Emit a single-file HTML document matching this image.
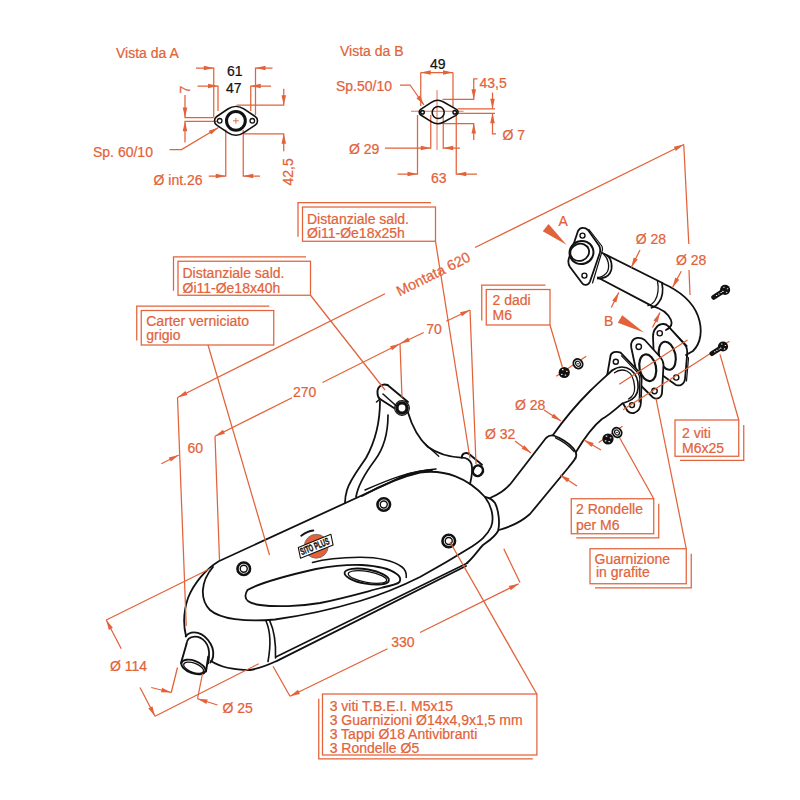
<!DOCTYPE html>
<html><head><meta charset="utf-8"><style>
html,body{margin:0;padding:0;background:#fff;width:800px;height:800px;overflow:hidden}
svg{display:block}
text{font-family:"Liberation Sans",sans-serif}
</style></head><body>
<svg width="800" height="800" viewBox="0 0 800 800">
<rect width="800" height="800" fill="#fff"/>
<path d="M380,401 C380,420 376,440 366,458 C358,470 350,480 347,490 C345.5,495 345,500 345,503" fill="none" stroke="#111" stroke-width="1.8" stroke-linejoin="round" stroke-linecap="round" />
<path d="M376.5,402 L380,399" fill="none" stroke="#111" stroke-width="1.6" stroke-linejoin="round" stroke-linecap="round" />
<path d="M388,415 C388,432 384,448 375,460 C366,472 358,484 356,497" fill="none" stroke="#111" stroke-width="1.7" stroke-linejoin="round" stroke-linecap="round" />
<path d="M408,412.5 C412,426 418,438 428,447 C438,454 450,457 461,457.6" fill="none" stroke="#111" stroke-width="1.8" stroke-linejoin="round" stroke-linecap="round" />
<path d="M426.25,445 L438.75,456.25" fill="none" stroke="#111" stroke-width="1.4" stroke-linejoin="round" stroke-linecap="round" />
<path d="M387.5,385 L408,402" fill="none" stroke="#111" stroke-width="1.9" stroke-linejoin="round" stroke-linecap="round" />
<path d="M387.5,385 C382,383 377,387 377.5,393 C377.5,396 378.5,398 380,399 L394,408" fill="none" stroke="#111" stroke-width="1.9" stroke-linejoin="round" stroke-linecap="round" />
<path d="M383,394 L397.5,407" fill="none" stroke="#111" stroke-width="1.5" stroke-linejoin="round" stroke-linecap="round" />
<circle cx="402" cy="408" r="5.1" fill="white" stroke="#111" stroke-width="3.4"/>
<circle cx="402" cy="408" r="7.4" fill="none" stroke="#111" stroke-width="1.1"/>
<path d="M461.75,457.6 C462,453 466,452.5 468.5,453.5 L482,464.75" fill="none" stroke="#111" stroke-width="1.9" stroke-linejoin="round" stroke-linecap="round" />
<path d="M461.75,457.6 C466,457.6 470,460 471.5,464 C472.5,468 472,476 470,484" fill="none" stroke="#111" stroke-width="1.8" stroke-linejoin="round" stroke-linecap="round" />
<ellipse cx="477.9" cy="470.75" rx="4.9" ry="5.4" transform="rotate(30 477.9 470.75)" fill="white" stroke="#111" stroke-width="2.6"/>
<path d="M432,470 C420,470.5 405,474 390,482.5 L218.75,561.25 C206,569 194,583 188,598 C184,610 183,624 186,636" fill="none" stroke="#111" stroke-width="1.8" stroke-linejoin="round" stroke-linecap="round" />
<path d="M362,496 C380,486 400,477 420,472.5 C445,469 468,478 485,497 C493,508 494,520 491,527 C487,536 480,541 472,546.5 C460,554 440,566 420,577 C400,587 380,595 360,601 C330,610 300,616 275,619.5 C245,622 220,619 210,610 C200,600 200,582 213,567" fill="none" stroke="#111" stroke-width="1.8" stroke-linejoin="round" stroke-linecap="round" />
<path d="M365,490 C390,479 410,471 436,469" fill="none" stroke="#111" stroke-width="1.5" stroke-linejoin="round" stroke-linecap="round" />
<path d="M485,497 C490,498 493,500 495,503 C499,511 500,524 498,531 C495,537 490,540 483,545 C478,550 474,557 467,563" fill="none" stroke="#111" stroke-width="1.8" stroke-linejoin="round" stroke-linecap="round" />
<path d="M250,670 C262,668 270,664 277.5,660.6 L466,566" fill="none" stroke="#111" stroke-width="1.8" stroke-linejoin="round" stroke-linecap="round" />
<path d="M275.75,657 L467.5,563" fill="none" stroke="#111" stroke-width="1.6" stroke-linejoin="round" stroke-linecap="round" />
<path d="M211,661 C220,667 232,670 250,670" fill="none" stroke="#111" stroke-width="1.8" stroke-linejoin="round" stroke-linecap="round" />
<path d="M266,621 C270,630 271,645 268,661.5" fill="none" stroke="#111" stroke-width="1.6" stroke-linejoin="round" stroke-linecap="round" />
<path d="M269.6,620.4 C274,630 276,645 275.5,658" fill="none" stroke="#111" stroke-width="1.6" stroke-linejoin="round" stroke-linecap="round" />
<circle cx="243.75" cy="568.75" r="6.3" fill="none" stroke="#111" stroke-width="2.6"/>
<circle cx="243.75" cy="568.75" r="3.5" fill="none" stroke="#111" stroke-width="1.4"/>
<circle cx="383.75" cy="504.5" r="6.3" fill="none" stroke="#111" stroke-width="2.6"/>
<circle cx="383.75" cy="504.5" r="3.5" fill="none" stroke="#111" stroke-width="1.4"/>
<circle cx="448.75" cy="541" r="6.3" fill="none" stroke="#111" stroke-width="2.6"/>
<circle cx="448.75" cy="541" r="3.5" fill="none" stroke="#111" stroke-width="1.4"/>
<path d="M247.5,590 C258,584 285,576 316,569 C335,565.5 350,564.5 362,565 C378,566 390,569 396,573.5 C400,576 401,579 399.5,582 C397,584.5 390,586 382.5,587.5 C365,592 345,598 320,603 C300,606.5 275,607 260,605 C250,603.5 245,600 245.5,595.5 C245.8,593 246.5,591.5 247.5,590 Z" fill="none" stroke="#111" stroke-width="1.8" stroke-linejoin="round" stroke-linecap="round" />
<path d="M312.5,562.5 C325,559 342,557.5 360,557.3 C378,557.3 392,560 402,567 C406,570 406.5,574 406.25,577.5" fill="none" stroke="#111" stroke-width="1.6" stroke-linejoin="round" stroke-linecap="round" />
<ellipse cx="366.75" cy="576.6" rx="22.5" ry="7.2" transform="rotate(10 366.75 576.6)" fill="none" stroke="#111" stroke-width="1.8"/>
<ellipse cx="367.5" cy="577" rx="19.5" ry="5.4" transform="rotate(10 367.5 577)" fill="none" stroke="#111" stroke-width="1.3"/>
<circle cx="316.25" cy="546.25" r="11.9" fill="#e2623a" stroke="#7a6a66" stroke-width="0.9"/>
<path d="M298.25,547.4 L330.9,534.25 L333.1,545.1 L300.5,558.25 Z" fill="white" stroke="#111" stroke-width="1.1" stroke-linejoin="round" stroke-linecap="round" />
<text x="0" y="0" font-size="10" font-weight="bold" fill="#111" stroke="#111" stroke-width="0.45" textLength="30.5" lengthAdjust="spacingAndGlyphs" transform="translate(301.8,555.3) rotate(-21.9)" style="font-family:'Liberation Sans',sans-serif">SITO PLUS</text>
<path d="M301.25,535.75 C305,533 309,531 313.25,530.5" fill="none" stroke="#111" stroke-width="2.0" stroke-linejoin="round" stroke-linecap="round" />
<path d="M185.75,636.5 C188,633 191,632.4 194,632.4 C199,632.5 204,635 208,640 C212,645 214,651 213.1,656.5 C212.7,659 211.8,661 210.5,662.5" fill="none" stroke="#111" stroke-width="1.9" stroke-linejoin="round" stroke-linecap="round" />
<path d="M186.5,643.75 C186.8,640 189.5,637 194.75,636.6 C198,636.5 202,638 205,641.5 C208,645 209.5,651 209,656.5 C208.9,659 208.6,661 208.25,663.25" fill="none" stroke="#111" stroke-width="1.8" stroke-linejoin="round" stroke-linecap="round" />
<path d="M186.5,644 L181,663" fill="none" stroke="#111" stroke-width="1.9" stroke-linejoin="round" stroke-linecap="round" />
<path d="M208.25,656.5 L206,671.5" fill="none" stroke="#111" stroke-width="1.9" stroke-linejoin="round" stroke-linecap="round" />
<ellipse cx="193.4" cy="667" rx="12.6" ry="6.3" transform="rotate(20 193.4 667)" fill="white" stroke="#111" stroke-width="1.9"/>
<ellipse cx="193.6" cy="667.8" rx="10.5" ry="4.6" transform="rotate(20 193.6 667.8)" fill="none" stroke="#111" stroke-width="1.3"/>
<path d="M656,328 C658,324 665,322.5 668,326 L685,345 C687.5,348 687.5,352 687,356 L685,379 C684.5,384 680,386.5 676,385 L662,375 C657,371 654,366 654,360 L653,337 C653,333 654,330 656,328 Z" fill="white" stroke="#111" stroke-width="1.8" stroke-linejoin="round" stroke-linecap="round" />
<path d="M668,326 L687,346 M687,356 L688.5,358 L686.5,381" fill="none" stroke="#111" stroke-width="1.2" stroke-linejoin="round" stroke-linecap="round" />
<ellipse cx="667.25" cy="355.75" rx="8.25" ry="14.25" transform="rotate(-12 667.25 355.75)" fill="none" stroke="#111" stroke-width="2.1"/>
<circle cx="659.75" cy="333.25" r="2.6" fill="none" stroke="#111" stroke-width="1.4"/>
<circle cx="676.25" cy="377.5" r="2.6" fill="none" stroke="#111" stroke-width="1.4"/>
<path d="M662,283 C678,290 692,300 698,316 C703,330 701,343 693,351 L686,355" fill="none" stroke="#111" stroke-width="1.8" stroke-linejoin="round" stroke-linecap="round" />
<path d="M651,305.6 C660,308 668,313 671,320 C673,325 670,328 666,330" fill="none" stroke="#111" stroke-width="1.8" stroke-linejoin="round" stroke-linecap="round" />
<path d="M632,341.5 C634,337.5 640,336.5 644.75,340 L659.75,356.5 C662,359 663.5,362 663.5,365 L662,393 C661.5,398 657,400 653,397.5 L643.25,388 C640,385 638,381 637.5,377 L631.25,347.5 C630.8,345 631,343 632,341.5 Z" fill="white" stroke="#111" stroke-width="1.8" stroke-linejoin="round" stroke-linecap="round" />
<ellipse cx="647.75" cy="367.75" rx="8.25" ry="13.5" transform="rotate(-12 647.75 367.75)" fill="none" stroke="#111" stroke-width="2.2"/>
<circle cx="638.75" cy="346.75" r="2.7" fill="none" stroke="#111" stroke-width="1.4"/>
<circle cx="654.5" cy="391" r="2.7" fill="none" stroke="#111" stroke-width="1.4"/>
<path d="M610.5,356 C611,352 616,351 620.6,352.6 L639,371.9 C641,374 641.6,376 641.6,379 L640.9,402.5 C640.8,407 639,411 634,413 C631,413.5 629,412.5 627.5,411 L607,376.25 L610.5,356 Z" fill="white" stroke="#111" stroke-width="1.8" stroke-linejoin="round" stroke-linecap="round" />
<path d="M621.5,355.8 L637.8,372.8 C639.3,374.8 639.8,377 639.8,379 L639.2,402" fill="none" stroke="#111" stroke-width="1.2" stroke-linejoin="round" stroke-linecap="round" />
<circle cx="615.8" cy="361.8" r="2.5" fill="none" stroke="#111" stroke-width="1.4"/>
<circle cx="632" cy="405.1" r="2.5" fill="none" stroke="#111" stroke-width="1.4"/>
<path d="M553,435 C565,418 578,403 590,391 C598,383 605,377 612,370.5 C618,366.3 625,365.8 631.1,370.1 C636,374 638.5,381 638.1,387.6 C637.8,394 634,399 627.6,401.6 L622.4,403.4 C616,409 608,416 602,419 C592,427 582,442 576,452 Z" fill="white" stroke="none"/>
<path d="M553,435 C565,418 578,403 590,391 C598,383 605,377 612,370.5" fill="none" stroke="#111" stroke-width="1.8" stroke-linejoin="round" stroke-linecap="round" />
<path d="M612,370.5 C618,366.3 625,365.8 631.1,370.1 C636,374 638.5,381 638.1,387.6 C637.8,394 634,399 627.6,401.6 L622.4,403.4" fill="none" stroke="#111" stroke-width="1.6" stroke-linejoin="round" stroke-linecap="round" />
<path d="M576,452 C582,442 592,427 602,419 C608,416 616,409 622.4,403.4" fill="none" stroke="#111" stroke-width="1.8" stroke-linejoin="round" stroke-linecap="round" />
<path d="M614.5,372.75 C618,370 623,369.5 626.75,371 C631,373 634,379 634.6,386.75 C635,392 632.5,397 628.5,399" fill="none" stroke="#111" stroke-width="1.3" stroke-linejoin="round" stroke-linecap="round" />
<path d="M490,498 C500,494 506,490 512,482 L546,438 C548.5,435.5 551,435 553.5,435.5 C560,437.5 569,443 573.5,448.5 C576,451.5 577,455 575.5,458" fill="none" stroke="#111" stroke-width="1.8" stroke-linejoin="round" stroke-linecap="round" />
<path d="M499,530 C510,527 520,523 530,514 L568,468 C571,464 574,461 575.5,458" fill="none" stroke="#111" stroke-width="1.8" stroke-linejoin="round" stroke-linecap="round" />
<path d="M555.5,437.8 C561.5,440.5 569,445.5 574,451.5" fill="none" stroke="#111" stroke-width="1.3" stroke-linejoin="round" stroke-linecap="round" />
<path d="M602.5,253 L662.5,283" fill="none" stroke="#111" stroke-width="1.8" stroke-linejoin="round" stroke-linecap="round" />
<path d="M597.8,277.5 L651.25,305.6" fill="none" stroke="#111" stroke-width="1.8" stroke-linejoin="round" stroke-linecap="round" />
<path d="M607,255.5 C612,259 613,268 610,273 C608,276.5 603,278.5 597.8,278.6" fill="none" stroke="#111" stroke-width="1.7" stroke-linejoin="round" stroke-linecap="round" />
<path d="M603.5,254 C608,258 610,266 607.5,271.5 C605.5,275 602,277 598,277.6" fill="none" stroke="#111" stroke-width="1.3" stroke-linejoin="round" stroke-linecap="round" />
<path d="M662,283.5 C663.5,290 662.5,298 659,302 C657,305 654.5,307 651.5,307.8" fill="none" stroke="#111" stroke-width="1.7" stroke-linejoin="round" stroke-linecap="round" />
<path d="M657.5,281.5 C659,288 658,296 655,300.5 C653,303.5 650.5,305 648,305.5" fill="none" stroke="#111" stroke-width="1.3" stroke-linejoin="round" stroke-linecap="round" />
<path d="M578,231 C580,227 585,227 588,230 L599,245.5 C600.5,248 600.5,250.5 599.8,253 L590,281.5 C588.5,285.5 584,286 582,283 L570,267 C568,264 568,261 569,258 Z" fill="white" stroke="#111" stroke-width="1.8" stroke-linejoin="round" stroke-linecap="round" />
<path d="M589,229.5 L601.8,246 C602.6,247.5 602.6,249.5 602,251.5 L592.5,283" fill="none" stroke="#111" stroke-width="1.2" stroke-linejoin="round" stroke-linecap="round" />
<ellipse cx="581.5" cy="252.5" rx="12" ry="11.5" transform="rotate(-20 581.5 252.5)" fill="white" stroke="#111" stroke-width="2.0"/>
<ellipse cx="579.7" cy="252.3" rx="9.5" ry="8.5" transform="rotate(-20 579.7 252.3)" fill="none" stroke="#111" stroke-width="1.8"/>
<circle cx="582.5" cy="235.6" r="2.5" fill="none" stroke="#111" stroke-width="1.4"/>
<circle cx="584.4" cy="275.6" r="2.5" fill="none" stroke="#111" stroke-width="1.4"/>
<text x="116" y="57.5" font-size="14" fill="#e2623a" stroke="#e2623a" stroke-width="0.22" >Vista da A</text>
<text x="227" y="76" font-size="14" fill="#111" stroke="#111" stroke-width="0.22" >61</text>
<text x="226" y="92.5" font-size="14" fill="#111" stroke="#111" stroke-width="0.22" >47</text>
<polyline points="213.75,117 213.75,68 196,68" fill="none" stroke="#e2623a" stroke-width="1.25"/>
<polygon points="213.75,68.00 203.75,70.30 203.75,65.70" fill="#e2623a"/>
<polyline points="218,111 218,86 197.5,86" fill="none" stroke="#e2623a" stroke-width="1.25"/>
<polygon points="218.00,86.00 208.00,88.30 208.00,83.70" fill="#e2623a"/>
<polyline points="255.5,115 255.5,68 272.5,68" fill="none" stroke="#e2623a" stroke-width="1.25"/>
<polygon points="255.50,68.00 265.50,65.70 265.50,70.30" fill="#e2623a"/>
<polyline points="250.75,111 250.75,86 271,86" fill="none" stroke="#e2623a" stroke-width="1.25"/>
<polygon points="250.75,86.00 260.75,83.70 260.75,88.30" fill="#e2623a"/>
<polyline points="213.75,117.5 185,117.5 185,95" fill="none" stroke="#e2623a" stroke-width="1.25"/>
<polygon points="185.00,117.50 182.70,107.50 187.30,107.50" fill="#e2623a"/>
<polyline points="217.5,121.25 185,121.25 185,142.5" fill="none" stroke="#e2623a" stroke-width="1.25"/>
<polygon points="185.00,121.25 187.30,131.25 182.70,131.25" fill="#e2623a"/>
<text x="0" y="0" font-size="14" fill="#e2623a" stroke="#e2623a" stroke-width="0.22" transform="translate(189.5,93.5) rotate(-90)">7</text>
<polyline points="236.7,105.2 283.75,105.2 283.75,88.75" fill="none" stroke="#e2623a" stroke-width="1.25"/>
<polygon points="283.75,105.20 281.45,95.20 286.05,95.20" fill="#e2623a"/>
<polyline points="243.75,133.75 283.75,133.75 283.75,151.25" fill="none" stroke="#e2623a" stroke-width="1.25"/>
<polygon points="283.75,133.75 286.05,143.75 281.45,143.75" fill="#e2623a"/>
<text x="0" y="0" font-size="14" fill="#e2623a" stroke="#e2623a" stroke-width="0.22" transform="translate(292.5,185.5) rotate(-90)">42,5</text>
<polyline points="225.75,129.5 225.75,176 208.75,176" fill="none" stroke="#e2623a" stroke-width="1.25"/>
<polygon points="225.75,176.00 215.75,178.30 215.75,173.70" fill="#e2623a"/>
<polyline points="243.25,130 243.25,176 260,176" fill="none" stroke="#e2623a" stroke-width="1.25"/>
<polygon points="243.25,176.00 253.25,173.70 253.25,178.30" fill="#e2623a"/>
<text x="153.5" y="185" font-size="14" fill="#e2623a" stroke="#e2623a" stroke-width="0.22" >Ø int.26</text>
<text x="93" y="157" font-size="14" fill="#e2623a" stroke="#e2623a" stroke-width="0.22" >Sp. 60/10</text>
<polyline points="169.5,149.5 181.5,149.5 218.5,127.5" fill="none" stroke="#e2623a" stroke-width="1.25"/>
<polygon points="218.50,127.50 211.08,134.59 208.73,130.63" fill="#e2623a"/>
<path d="M216.78,116.50 L227.87,108.97 A14.3,14.3 0 0 1 243.83,108.90 L255.19,116.47 A5.2,5.2 0 0 1 255.19,125.13 L243.83,132.70 A14.3,14.3 0 0 1 227.87,132.63 L216.78,125.10 A5.2,5.2 0 0 1 216.78,116.50 Z" fill="none" stroke="#111" stroke-width="1.6" stroke-linejoin="round" stroke-linecap="round" />
<circle cx="235.9" cy="120.8" r="9.4" fill="none" stroke="#111" stroke-width="3"/>
<circle cx="219.7" cy="120.8" r="2.3" fill="none" stroke="#111" stroke-width="1.3"/>
<circle cx="252.3" cy="120.8" r="2.3" fill="none" stroke="#111" stroke-width="1.3"/>
<line x1="233" y1="120.8" x2="238.8" y2="120.8" stroke="#e2623a" stroke-width="0.9"/>
<line x1="235.9" y1="117.9" x2="235.9" y2="123.7" stroke="#e2623a" stroke-width="0.9"/>
<text x="340" y="56" font-size="14" fill="#e2623a" stroke="#e2623a" stroke-width="0.22" >Vista da B</text>
<text x="430" y="68.5" font-size="14" fill="#111" stroke="#111" stroke-width="0.22" >49</text>
<line x1="420.75" y1="72.5" x2="453" y2="72.5" stroke="#e2623a" stroke-width="1.25"/>
<polygon points="420.75,72.50 430.75,70.20 430.75,74.80" fill="#e2623a"/>
<polygon points="453.00,72.50 443.00,74.80 443.00,70.20" fill="#e2623a"/>
<line x1="420.75" y1="72.5" x2="420.75" y2="106" stroke="#e2623a" stroke-width="1.25"/>
<line x1="453" y1="72.5" x2="453" y2="108" stroke="#e2623a" stroke-width="1.25"/>
<text x="336" y="91" font-size="14" fill="#e2623a" stroke="#e2623a" stroke-width="0.22" >Sp.50/10</text>
<polyline points="400,85 410,85 424,105" fill="none" stroke="#e2623a" stroke-width="1.25"/>
<polygon points="424.00,105.00 416.38,98.13 420.15,95.49" fill="#e2623a"/>
<line x1="411" y1="111.25" x2="463.5" y2="111.25" stroke="#e2623a" stroke-width="0.9"/>
<line x1="437" y1="90" x2="437" y2="150" stroke="#e2623a" stroke-width="0.9"/>
<polyline points="442.5,99.25 473.75,99.25 473.75,78.75 477.5,78.75" fill="none" stroke="#e2623a" stroke-width="1.25"/>
<polygon points="473.75,99.25 471.45,89.25 476.05,89.25" fill="#e2623a"/>
<text x="479.5" y="87.5" font-size="14" fill="#e2623a" stroke="#e2623a" stroke-width="0.22" >43,5</text>
<polyline points="442.5,123.5 473.75,123.5 473.75,140" fill="none" stroke="#e2623a" stroke-width="1.25"/>
<polygon points="473.75,123.50 476.05,133.50 471.45,133.50" fill="#e2623a"/>
<line x1="457.5" y1="108.75" x2="495" y2="108.75" stroke="#e2623a" stroke-width="1.25"/>
<line x1="457.5" y1="113.25" x2="495" y2="113.25" stroke="#e2623a" stroke-width="1.25"/>
<line x1="492.5" y1="92.5" x2="492.5" y2="108.75" stroke="#e2623a" stroke-width="1.25"/>
<polygon points="492.50,108.75 490.20,98.75 494.80,98.75" fill="#e2623a"/>
<polyline points="492.5,113.25 492.5,133.75 496,133.75" fill="none" stroke="#e2623a" stroke-width="1.25"/>
<polygon points="492.50,113.25 494.80,123.25 490.20,123.25" fill="#e2623a"/>
<text x="502.5" y="139.5" font-size="14" fill="#e2623a" stroke="#e2623a" stroke-width="0.22" >Ø 7</text>
<text x="349" y="154" font-size="14" fill="#e2623a" stroke="#e2623a" stroke-width="0.22" >Ø 29</text>
<polyline points="385,148 430.75,148 430.75,115" fill="none" stroke="#e2623a" stroke-width="1.25"/>
<polygon points="430.75,148.00 420.75,150.30 420.75,145.70" fill="#e2623a"/>
<polyline points="443.25,115 443.25,148 460,148" fill="none" stroke="#e2623a" stroke-width="1.25"/>
<polygon points="443.25,148.00 453.25,145.70 453.25,150.30" fill="#e2623a"/>
<polyline points="417.5,115 417.5,174 397.5,174" fill="none" stroke="#e2623a" stroke-width="1.25"/>
<polygon points="417.50,174.00 407.50,176.30 407.50,171.70" fill="#e2623a"/>
<polyline points="456.25,115 456.25,174 477,174" fill="none" stroke="#e2623a" stroke-width="1.25"/>
<polygon points="456.25,174.00 466.25,171.70 466.25,176.30" fill="#e2623a"/>
<text x="431" y="182.5" font-size="14" fill="#e2623a" stroke="#e2623a" stroke-width="0.22" >63</text>
<path d="M420.67,109.45 L431.38,102.34 A11.6,11.6 0 0 1 443.58,101.94 L456.44,109.34 A3.3,3.3 0 0 1 456.38,115.10 L443.34,122.19 A11.6,11.6 0 0 1 431.64,121.83 L420.75,115.00 A3.3,3.3 0 0 1 420.67,109.45 Z" fill="none" stroke="#111" stroke-width="1.6" stroke-linejoin="round" stroke-linecap="round" />
<circle cx="438.2" cy="112.5" r="6" fill="none" stroke="#111" stroke-width="1.6"/>
<circle cx="422.5" cy="112.2" r="1.8" fill="none" stroke="#111" stroke-width="1.5"/>
<circle cx="454.8" cy="112.2" r="1.8" fill="none" stroke="#111" stroke-width="1.5"/>
<rect x="302.5" y="207" width="133.0" height="34.25" fill="none" stroke="#e2623a" stroke-width="1.25"/>
<polyline points="298.0,236.75 298.0,202.5 431.0,202.5" fill="none" stroke="#e2623a" stroke-width="1.25"/>
<text x="307" y="223.5" font-size="14" fill="#e2623a" stroke="#e2623a" stroke-width="0.22" >Distanziale sald.</text>
<text x="307" y="238" font-size="14" fill="#e2623a" stroke="#e2623a" stroke-width="0.22" >Øi11-Øe18x25h</text>
<rect x="178" y="261.25" width="132.5" height="34.0" fill="none" stroke="#e2623a" stroke-width="1.25"/>
<polyline points="173.5,290.75 173.5,256.75 306.0,256.75" fill="none" stroke="#e2623a" stroke-width="1.25"/>
<text x="182.5" y="278" font-size="14" fill="#e2623a" stroke="#e2623a" stroke-width="0.22" >Distanziale sald.</text>
<text x="182.5" y="292.5" font-size="14" fill="#e2623a" stroke="#e2623a" stroke-width="0.22" >Øi11-Øe18x40h</text>
<rect x="141.25" y="310.5" width="132.5" height="34.5" fill="none" stroke="#e2623a" stroke-width="1.25"/>
<polyline points="136.75,340.5 136.75,306.0 269.25,306.0" fill="none" stroke="#e2623a" stroke-width="1.25"/>
<text x="146.25" y="326" font-size="14" fill="#e2623a" stroke="#e2623a" stroke-width="0.22" >Carter verniciato</text>
<text x="146.25" y="339.5" font-size="14" fill="#e2623a" stroke="#e2623a" stroke-width="0.22" >grigio</text>
<rect x="486.25" y="289.5" width="63.75" height="35.5" fill="none" stroke="#e2623a" stroke-width="1.25"/>
<polyline points="481.75,320.5 481.75,285.0 545.5,285.0" fill="none" stroke="#e2623a" stroke-width="1.25"/>
<text x="492.5" y="305" font-size="14" fill="#e2623a" stroke="#e2623a" stroke-width="0.22" >2 dadi</text>
<text x="492.5" y="320" font-size="14" fill="#e2623a" stroke="#e2623a" stroke-width="0.22" >M6</text>
<rect x="675" y="420" width="63.75" height="36.25" fill="none" stroke="#e2623a" stroke-width="1.25"/>
<polyline points="680,460.25 743.75,460.25 743.75,425" fill="none" stroke="#e2623a" stroke-width="1.25"/>
<text x="682" y="437.5" font-size="14" fill="#e2623a" stroke="#e2623a" stroke-width="0.22" >2 viti</text>
<text x="682" y="452.5" font-size="14" fill="#e2623a" stroke="#e2623a" stroke-width="0.22" >M6x25</text>
<rect x="571.25" y="498.75" width="82.5" height="35.0" fill="none" stroke="#e2623a" stroke-width="1.25"/>
<polyline points="576.25,537.75 658.75,537.75 658.75,503.75" fill="none" stroke="#e2623a" stroke-width="1.25"/>
<text x="576" y="513.5" font-size="14" fill="#e2623a" stroke="#e2623a" stroke-width="0.22" >2 Rondelle</text>
<text x="576" y="529.5" font-size="14" fill="#e2623a" stroke="#e2623a" stroke-width="0.22" >per M6</text>
<rect x="590" y="548.75" width="96.25" height="35.0" fill="none" stroke="#e2623a" stroke-width="1.25"/>
<polyline points="595,587.75 691.25,587.75 691.25,553.75" fill="none" stroke="#e2623a" stroke-width="1.25"/>
<text x="594.5" y="563.5" font-size="14" fill="#e2623a" stroke="#e2623a" stroke-width="0.22" >Guarnizione</text>
<text x="596" y="576.5" font-size="14" fill="#e2623a" stroke="#e2623a" stroke-width="0.22" >in grafite</text>
<rect x="322.5" y="694" width="214.4" height="61" fill="none" stroke="#e2623a" stroke-width="1.25"/>
<polyline points="318.75,698.75 318.75,758.75 532.8,758.75" fill="none" stroke="#e2623a" stroke-width="1.25"/>
<text x="329.7" y="711" font-size="14" fill="#e2623a" stroke="#e2623a" stroke-width="0.22" >3 viti T.B.E.I. M5x15</text>
<text x="329.7" y="725" font-size="14" fill="#e2623a" stroke="#e2623a" stroke-width="0.22" >3 Guarnizioni Ø14x4,9x1,5 mm</text>
<text x="329.7" y="738.8" font-size="14" fill="#e2623a" stroke="#e2623a" stroke-width="0.22" >3 Tappi Ø18 Antivibranti</text>
<text x="329.7" y="752.5" font-size="14" fill="#e2623a" stroke="#e2623a" stroke-width="0.22" >3 Rondelle Ø5</text>
<line x1="177.5" y1="397.5" x2="385" y2="293.75" stroke="#e2623a" stroke-width="1.25"/>
<polygon points="177.50,397.50 185.42,390.97 187.47,395.09" fill="#e2623a"/>
<line x1="475" y1="247.5" x2="683.75" y2="144.5" stroke="#e2623a" stroke-width="1.25"/>
<polygon points="683.75,144.50 675.80,150.99 673.76,146.86" fill="#e2623a"/>
<text x="0" y="0" font-size="14.5" fill="#e2623a" stroke="#e2623a" stroke-width="0.22" transform="translate(399.5,296.5) rotate(-26.6)">Montata 620</text>
<line x1="177.5" y1="397.5" x2="186.25" y2="626" stroke="#e2623a" stroke-width="1.25"/>
<line x1="683.75" y1="144.5" x2="688.8" y2="244" stroke="#e2623a" stroke-width="1.25"/>
<line x1="689" y1="270" x2="690" y2="295" stroke="#e2623a" stroke-width="1.25"/>
<line x1="215" y1="436.25" x2="292" y2="397.8" stroke="#e2623a" stroke-width="1.25"/>
<line x1="322.5" y1="382.5" x2="400" y2="343.75" stroke="#e2623a" stroke-width="1.25"/>
<polygon points="215.00,436.25 222.92,429.72 224.97,433.84" fill="#e2623a"/>
<polygon points="400.00,343.75 392.08,350.28 390.03,346.16" fill="#e2623a"/>
<text x="293" y="396.5" font-size="14" fill="#e2623a" stroke="#e2623a" stroke-width="0.22" >270</text>
<line x1="215" y1="436.25" x2="219.5" y2="560" stroke="#e2623a" stroke-width="1.25"/>
<line x1="400" y1="343.75" x2="402" y2="397.5" stroke="#e2623a" stroke-width="1.25"/>
<line x1="400" y1="343.75" x2="423.75" y2="332.5" stroke="#e2623a" stroke-width="1.25"/>
<polygon points="400.00,343.75 408.05,337.39 410.02,341.55" fill="#e2623a"/>
<line x1="446.25" y1="321.25" x2="470" y2="310" stroke="#e2623a" stroke-width="1.25"/>
<polygon points="470.00,310.00 461.95,316.36 459.98,312.20" fill="#e2623a"/>
<text x="426.25" y="333.75" font-size="14" fill="#e2623a" stroke="#e2623a" stroke-width="0.22" >70</text>
<line x1="470" y1="310" x2="476" y2="464" stroke="#e2623a" stroke-width="1.25"/>
<line x1="161.25" y1="463.75" x2="178.75" y2="455" stroke="#e2623a" stroke-width="1.25"/>
<polygon points="178.75,455.00 170.83,461.53 168.78,457.41" fill="#e2623a"/>
<text x="187.5" y="452.5" font-size="14" fill="#e2623a" stroke="#e2623a" stroke-width="0.22" >60</text>
<line x1="210" y1="568.75" x2="106.25" y2="620" stroke="#e2623a" stroke-width="1.25"/>
<line x1="258.75" y1="663.75" x2="155" y2="716.25" stroke="#e2623a" stroke-width="1.25"/>
<line x1="121.25" y1="648.75" x2="106.25" y2="620" stroke="#e2623a" stroke-width="1.25"/>
<polygon points="106.25,620.00 112.91,627.80 108.84,629.93" fill="#e2623a"/>
<line x1="140" y1="687.5" x2="155" y2="716.25" stroke="#e2623a" stroke-width="1.25"/>
<polygon points="155.00,716.25 148.34,708.45 152.41,706.32" fill="#e2623a"/>
<text x="110" y="671.25" font-size="14" fill="#e2623a" stroke="#e2623a" stroke-width="0.22" >Ø 114</text>
<line x1="177.5" y1="667.5" x2="171.25" y2="692.5" stroke="#e2623a" stroke-width="1.25"/>
<line x1="151.25" y1="687.5" x2="171.25" y2="692.5" stroke="#e2623a" stroke-width="1.25"/>
<polygon points="171.25,692.50 160.99,692.31 162.11,687.84" fill="#e2623a"/>
<line x1="202.5" y1="673.75" x2="197.5" y2="698.75" stroke="#e2623a" stroke-width="1.25"/>
<line x1="217.5" y1="705" x2="197.5" y2="698.75" stroke="#e2623a" stroke-width="1.25"/>
<polygon points="197.50,698.75 207.73,699.54 206.36,703.93" fill="#e2623a"/>
<text x="222.5" y="712.5" font-size="14" fill="#e2623a" stroke="#e2623a" stroke-width="0.22" >Ø 25</text>
<line x1="290" y1="696.25" x2="387.5" y2="648.75" stroke="#e2623a" stroke-width="1.25"/>
<polygon points="290.00,696.25 297.98,689.80 300.00,693.94" fill="#e2623a"/>
<line x1="420" y1="632.5" x2="518.75" y2="583.75" stroke="#e2623a" stroke-width="1.25"/>
<polygon points="518.75,583.75 510.80,590.24 508.77,586.11" fill="#e2623a"/>
<text x="391.25" y="646.75" font-size="14" fill="#e2623a" stroke="#e2623a" stroke-width="0.22" >330</text>
<line x1="273" y1="666.25" x2="290" y2="696.25" stroke="#e2623a" stroke-width="1.25"/>
<line x1="503.75" y1="548.75" x2="520" y2="582.5" stroke="#e2623a" stroke-width="1.25"/>
<line x1="208" y1="345" x2="269.5" y2="555" stroke="#e2623a" stroke-width="1.25"/>
<line x1="310.5" y1="295.25" x2="385" y2="390" stroke="#e2623a" stroke-width="1.25"/>
<line x1="435.5" y1="241.25" x2="470" y2="458.5" stroke="#e2623a" stroke-width="1.25"/>
<line x1="450" y1="542" x2="536.75" y2="694" stroke="#e2623a" stroke-width="1.25"/>
<line x1="550" y1="325" x2="562.5" y2="367.5" stroke="#e2623a" stroke-width="1.25"/>
<line x1="618.75" y1="436.25" x2="653.75" y2="498.75" stroke="#e2623a" stroke-width="1.25"/>
<line x1="656" y1="398.5" x2="686.25" y2="548.75" stroke="#e2623a" stroke-width="1.25"/>
<line x1="720" y1="354.4" x2="738.75" y2="420" stroke="#e2623a" stroke-width="1.25"/>
<line x1="619.25" y1="384.25" x2="687.5" y2="340" stroke="#e2623a" stroke-width="1.25"/>
<line x1="623" y1="409.75" x2="729.4" y2="341.25" stroke="#e2623a" stroke-width="1.25"/>
<line x1="556.25" y1="376.25" x2="586.25" y2="356.25" stroke="#e2623a" stroke-width="1.25"/>
<line x1="598.75" y1="442.5" x2="622.5" y2="426.25" stroke="#e2623a" stroke-width="1.25"/>
<text x="635.75" y="243.75" font-size="14" fill="#e2623a" stroke="#e2623a" stroke-width="0.22" >Ø 28</text>
<line x1="640" y1="250" x2="631.25" y2="267.5" stroke="#e2623a" stroke-width="1.25"/>
<polygon points="631.25,267.50 633.66,257.53 637.78,259.58" fill="#e2623a"/>
<line x1="611.25" y1="307.5" x2="618.75" y2="292.5" stroke="#e2623a" stroke-width="1.25"/>
<polygon points="618.75,292.50 616.34,302.47 612.22,300.42" fill="#e2623a"/>
<text x="676" y="265" font-size="14" fill="#e2623a" stroke="#e2623a" stroke-width="0.22" >Ø 28</text>
<line x1="681.25" y1="271.25" x2="672.5" y2="287.5" stroke="#e2623a" stroke-width="1.25"/>
<polygon points="672.50,287.50 675.22,277.60 679.27,279.79" fill="#e2623a"/>
<line x1="652.5" y1="327.5" x2="660" y2="312.5" stroke="#e2623a" stroke-width="1.25"/>
<polygon points="660.00,312.50 657.59,322.47 653.47,320.42" fill="#e2623a"/>
<text x="515" y="410" font-size="14" fill="#e2623a" stroke="#e2623a" stroke-width="0.22" >Ø 28</text>
<line x1="544" y1="410" x2="561" y2="421" stroke="#e2623a" stroke-width="1.25"/>
<polygon points="561.00,421.00 551.35,417.50 553.85,413.64" fill="#e2623a"/>
<line x1="601" y1="450" x2="584" y2="440" stroke="#e2623a" stroke-width="1.25"/>
<polygon points="584.00,440.00 593.79,443.09 591.45,447.05" fill="#e2623a"/>
<text x="485" y="438.75" font-size="14" fill="#e2623a" stroke="#e2623a" stroke-width="0.22" >Ø 32</text>
<line x1="515" y1="441" x2="531" y2="453" stroke="#e2623a" stroke-width="1.25"/>
<polygon points="531.00,453.00 521.62,448.84 524.38,445.16" fill="#e2623a"/>
<line x1="577" y1="486" x2="560" y2="475" stroke="#e2623a" stroke-width="1.25"/>
<polygon points="560.00,475.00 569.65,478.50 567.15,482.36" fill="#e2623a"/>
<text x="558.5" y="226" font-size="14" fill="#e2623a" stroke="#e2623a" stroke-width="0.22" >A</text>
<polygon points="548.5,224 542.75,231.25 566.5,244.75" fill="#e2623a"/>
<text x="604" y="325.75" font-size="14" fill="#e2623a" stroke="#e2623a" stroke-width="0.22" >B</text>
<polygon points="622.25,315.25 617.75,322.75 644,332.5" fill="#e2623a"/>
<circle cx="564.25" cy="372.5" r="5.6" fill="#111" stroke="none" stroke-width="0"/>
<ellipse cx="562.75" cy="369.7" rx="0.9" ry="0.6" fill="white"/>
<ellipse cx="566.85" cy="371.3" rx="0.9" ry="0.6" fill="white"/>
<ellipse cx="561.85" cy="374.3" rx="0.9" ry="0.6" fill="white"/>
<ellipse cx="565.45" cy="375.1" rx="0.9" ry="0.6" fill="white"/>
<ellipse cx="578" cy="363.75" rx="4.4" ry="5.0" transform="rotate(-35 578 363.75)" fill="white" stroke="#111" stroke-width="1.9"/>
<ellipse cx="578" cy="363.75" rx="2.2" ry="2.7" transform="rotate(-35 578 363.75)" fill="none" stroke="#111" stroke-width="1.2"/>
<circle cx="578" cy="363.75" r="0.8" fill="#111" stroke="none" stroke-width="0"/>
<circle cx="608" cy="439" r="5.6" fill="#111" stroke="none" stroke-width="0"/>
<ellipse cx="606.5" cy="436.2" rx="0.9" ry="0.6" fill="white"/>
<ellipse cx="610.6" cy="437.8" rx="0.9" ry="0.6" fill="white"/>
<ellipse cx="605.6" cy="440.8" rx="0.9" ry="0.6" fill="white"/>
<ellipse cx="609.2" cy="441.6" rx="0.9" ry="0.6" fill="white"/>
<ellipse cx="617" cy="432.5" rx="4.4" ry="5.0" transform="rotate(-35 617 432.5)" fill="white" stroke="#111" stroke-width="1.9"/>
<ellipse cx="617" cy="432.5" rx="2.2" ry="2.7" transform="rotate(-35 617 432.5)" fill="none" stroke="#111" stroke-width="1.2"/>
<circle cx="617" cy="432.5" r="0.8" fill="#111" stroke="none" stroke-width="0"/>
<line x1="725.1" y1="289.8" x2="713.75" y2="297.25" stroke="#111" stroke-width="5" stroke-linecap="round"/>
<circle cx="725.1" cy="289.8" r="5.1" fill="#111" stroke="none" stroke-width="0"/>
<ellipse cx="721.13" cy="292.41" rx="0.8" ry="0.5" fill="white"/>
<ellipse cx="718.86" cy="293.90" rx="0.8" ry="0.5" fill="white"/>
<ellipse cx="716.59" cy="295.39" rx="0.8" ry="0.5" fill="white"/>
<ellipse cx="723.9" cy="287.3" rx="0.8" ry="0.55" fill="white"/>
<ellipse cx="727.5" cy="288.8" rx="0.8" ry="0.55" fill="white"/>
<ellipse cx="722.9" cy="291.40000000000003" rx="0.8" ry="0.55" fill="white"/>
<ellipse cx="726.6" cy="292.2" rx="0.8" ry="0.55" fill="white"/>
<line x1="723" y1="346.5" x2="712" y2="353.5" stroke="#111" stroke-width="5" stroke-linecap="round"/>
<circle cx="723" cy="346.5" r="5.1" fill="#111" stroke="none" stroke-width="0"/>
<ellipse cx="719.15" cy="348.95" rx="0.8" ry="0.5" fill="white"/>
<ellipse cx="716.95" cy="350.35" rx="0.8" ry="0.5" fill="white"/>
<ellipse cx="714.75" cy="351.75" rx="0.8" ry="0.5" fill="white"/>
<ellipse cx="721.8" cy="344.0" rx="0.8" ry="0.55" fill="white"/>
<ellipse cx="725.4" cy="345.5" rx="0.8" ry="0.55" fill="white"/>
<ellipse cx="720.8" cy="348.1" rx="0.8" ry="0.55" fill="white"/>
<ellipse cx="724.5" cy="348.9" rx="0.8" ry="0.55" fill="white"/>
<!--BLACK-->
</svg></body></html>
